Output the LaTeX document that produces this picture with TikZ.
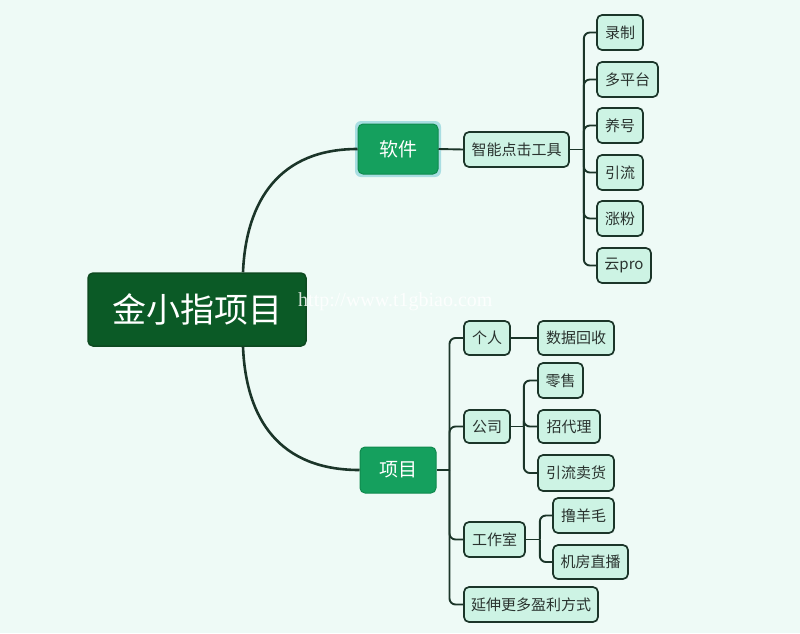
\documentclass[tikz,border=0pt]{standalone}
\usepackage{fontspec}
\setmainfont{Noto Sans CJK SC}
\newfontfamily\wmfont{Liberation Serif}
\begin{document}
\begin{tikzpicture}[x=1pt,y=-1pt,
  leaf/.style={draw=linec,line width=1.7pt,fill=leaffill,rounded corners=5pt,
    inner sep=0pt,minimum height=35pt,font=\fontsize{15}{15}\selectfont,text=txtc},
  mid/.style={draw=midborder,line width=1pt,fill=midfill,rounded corners=5pt,
    inner sep=0pt,font=\fontsize{19}{19}\selectfont,text=white},
  conn/.style={draw=linec,line width=1.9pt,rounded corners=6pt},
  main/.style={draw=linec,line width=2.6pt}]
\definecolor{bgc}{HTML}{EEFAF6}
\definecolor{linec}{HTML}{1B3529}
\definecolor{leaffill}{HTML}{CDF3E4}
\definecolor{txtc}{HTML}{2A332F}
\definecolor{midfill}{HTML}{15A05E}
\definecolor{midborder}{HTML}{0F8A4E}
\definecolor{rootfill}{HTML}{0B5A26}
\definecolor{rootborder}{HTML}{0D4A20}
\definecolor{glow}{HTML}{A9DEE2}
\fill[bgc] (0,0) rectangle (800,633);
\useasboundingbox (0,0) rectangle (800,633);

% root
\node[draw=rootborder,line width=1.5pt,fill=rootfill,rounded corners=5pt,
  minimum width=218pt,minimum height=73pt,inner sep=0pt,text=white,
  font=\fontsize{34}{34}\selectfont] (root) at (197,309.5) {金小指项目};

% level 1
\fill[glow,rounded corners=6pt] (355,121) rectangle (441,177);
\node[mid,minimum width=80pt,minimum height=50pt] (soft) at (398,149) {软件};
\node[mid,minimum width=76pt,minimum height=46pt] (proj) at (398,470) {项目};

% software branch
\node[leaf,minimum width=105pt] (tool) at (516.5,149.5) {智能点击工具};
\node[leaf,minimum width=46pt] (s1) at (620,32.5) {录制};
\node[leaf,minimum width=61pt] (s2) at (627.5,79.5) {多平台};
\node[leaf,minimum width=46pt] (s3) at (620,125.5) {养号};
\node[leaf,minimum width=46pt] (s4) at (620,172.5) {引流};
\node[leaf,minimum width=46pt] (s5) at (620,218.5) {涨粉};
\node[leaf,minimum width=54pt] (s6) at (624,265.5) {云pro};

% project branch
\node[leaf,minimum width=46pt,minimum height=34pt] (p1) at (487,338) {个人};
\node[leaf,minimum width=76pt,minimum height=34pt] (p1a) at (576,338) {数据回收};
\node[leaf,minimum width=46pt,minimum height=33pt] (p2) at (487,426.5) {公司};
\node[leaf,minimum width=45pt] (p2a) at (560.5,380.5) {零售};
\node[leaf,minimum width=62pt,minimum height=33pt] (p2b) at (569,426.5) {招代理};
\node[leaf,minimum width=76pt,minimum height=36pt] (p2c) at (576,473) {引流卖货};
\node[leaf,minimum width=61pt] (p3) at (494.5,539.5) {工作室};
\node[leaf,minimum width=61pt] (p3a) at (583.5,515.5) {撸羊毛};
\node[leaf,minimum width=75pt,minimum height=34pt] (p3b) at (590.5,562) {机房直播};
\node[leaf,minimum width=134pt] (p4) at (531,604.5) {延伸更多盈利方式};

% bracket junctions
\coordinate (jt) at ([xshift=14pt]tool.east);
\coordinate (jp) at ([xshift=13pt]proj.east);
\coordinate (j2) at ([xshift=13pt]p2.east);
\coordinate (j3) at ([xshift=14pt]p3.east);

% main curves
\draw[main] ([xshift=46pt]root.north) .. controls (246,200) and (280,149) .. (soft.west);
\draw[main] ([xshift=46pt]root.south) .. controls (246,420) and (280,470) .. (proj.west);

% connectors
\draw[conn] (soft.east) -- (tool.west);
\draw[conn] (tool.east) -- (jt);
\foreach \c in {s1,s2,s3,s4,s5,s6}
  \draw[conn] (jt) |- (\c.west);
\draw[conn] (proj.east) -- (jp);
\foreach \c in {p1,p2,p3,p4}
  \draw[conn] (jp) |- (\c.west);
\draw[conn] (p1.east) -- (p1a.west);
\draw[conn] (p2.east) -- (j2);
\foreach \c in {p2a,p2b,p2c}
  \draw[conn] (j2) |- (\c.west);
\draw[conn] (p3.east) -- (j3);
\foreach \c in {p3a,p3b}
  \draw[conn] (j3) |- (\c.west);

% watermark
\node[text=white,opacity=0.85,font=\wmfont\fontsize{20}{20}\selectfont,anchor=west,inner sep=0pt] (wm) at (298,302) {http://www.t1gbiao.com};
\end{tikzpicture}
\end{document}
